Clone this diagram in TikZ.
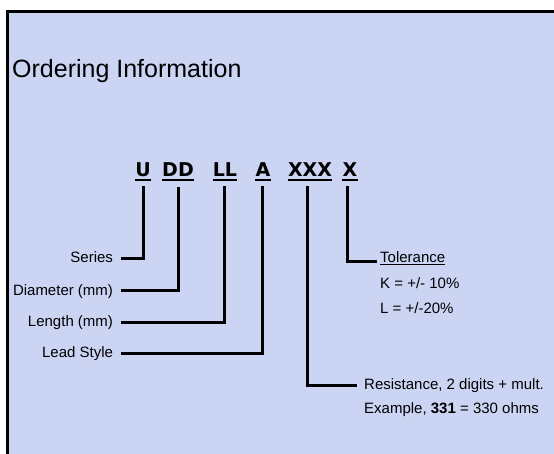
\documentclass[tikz,border=0pt]{standalone}
\usepackage{fontspec}
\setmainfont{Liberation Sans}
\newfontfamily\codefont{DejaVu Sans}
\usepackage{tikz}

\definecolor{panel}{RGB}{203,212,243}

\tikzset{
  lead/.style={line width=3pt},
  codeul/.style={line width=2pt},
  code/.style={font=\codefont\fontsize{19}{19}\selectfont\bfseries, inner sep=0pt, text depth=3pt, anchor=base},
  lbl/.style={font=\fontsize{15}{18}\selectfont, text height=11pt, text depth=3pt, inner xsep=4pt, outer xsep=4pt, anchor=east},
  note/.style={font=\fontsize{15}{18}\selectfont, inner sep=0pt, anchor=base west}
}

\begin{document}
\begin{tikzpicture}[x=1pt,y=-1pt]
    \useasboundingbox (0,0) rectangle (554,454);
    \fill[white] (0,0) rectangle (554,454);

    \scope
    \clip (0,0) rectangle (554,454);
    \draw[line width=3pt, fill=panel] (7.5,11.5) rectangle (580,480);
    \endscope

    \node[anchor=base west, inner sep=0pt, font=\fontsize{25}{25}\selectfont] (title) at (12,78) {Ordering Information};

    \node[code] (u) at (143,177) {U};
    \node[code] (dd) at (178,177) {DD};
    \node[code] (ll) at (225,177) {LL};
    \node[code] (a) at (263,177) {A};
    \node[code] (xxx) at (310,177) {XXX};
    \node[code] (x) at (350,177) {X};
    \foreach \c in {u,dd,ll,a,xxx,x}
      \draw[codeul] (\c.south west) -- (\c.south east);

    \node[lbl] (series) at (121,259) {Series};
    \node[lbl] (diam) at (121,291) {Diameter (mm)};
    \node[lbl] (len) at (121,322) {Length (mm)};
    \node[lbl] (leadst) at (121,353) {Lead Style};

    \draw[lead] (series.east) -| ([yshift=-6pt]u.south);
    \draw[lead] (diam.east) -| ([yshift=-7pt]dd.south);
    \draw[lead] (len.east) -| ([xshift=-1pt,yshift=-6pt]ll.south);
    \draw[lead] (leadst.east) -| ([xshift=-1pt,yshift=-6pt]a.south);

    \node[note] (tol) at (380,263) {Tolerance};
    \draw[line width=1.2pt] ([yshift=-1.5pt]tol.base west) -- ([yshift=-1.5pt]tol.base east);
    \node[note] (tolk) at (380,288) {K = +/- 10\%};
    \node[note] (toll) at (380,313) {L = +/-20\%};
    \draw[lead] ([xshift=-3pt,yshift=-6pt]x.south) |- ([xshift=-3pt,yshift=1pt]tol.base west);

    \node[note] (res) at (364,389) {Resistance, 2 digits + mult.};
    \node[note] (resex) at (364,413) {Example, \textbf{331} = 330 ohms};
    \draw[lead] ([xshift=-3pt,yshift=-6pt]xxx.south) |- ([xshift=-7pt,yshift=4pt]res.base west);
  \end{tikzpicture}
\end{document}
